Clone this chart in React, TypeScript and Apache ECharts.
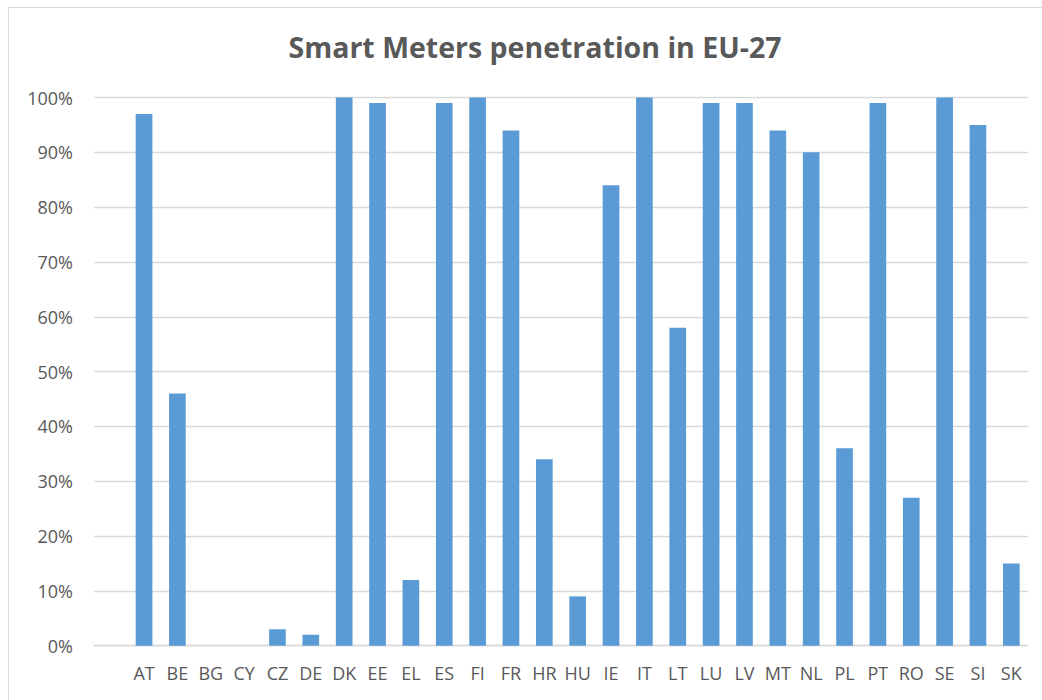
import React, { useEffect, useRef } from "react";
import * as echarts from "echarts";

const categories = ["", "AT", "BE", "BG", "CY", "CZ", "DE", "DK", "EE", "EL", "ES", "FI", "FR", "HR", "HU", "IE", "IT", "LT", "LU", "LV", "MT", "NL", "PL", "PT", "RO", "SE", "SI", "SK"];
const penetration = [null, 0.97, 0.46, 0, 0, 0.03, 0.02, 1.0, 0.99, 0.12, 0.99, 1.0, 0.94, 0.34, 0.09, 0.84, 1.0, 0.58, 0.99, 0.99, 0.94, 0.9, 0.36, 0.99, 0.27, 1.0, 0.95, 0.15];
const title = "Smart Meters penetration in EU-27";

export default function App() {
  const ref = useRef<HTMLDivElement>(null);
  useEffect(() => {
    const chart = echarts.init(ref.current!, null, { renderer: "svg" });
    chart.setOption({
      animation: false,
      backgroundColor: "#ffffff",
      textStyle: { fontFamily: "Open Sans" },
      title: {
        text: title,
        left: 530,
        top: 25,
        padding: 5,
        textAlign: "center",
        textStyle: { fontFamily: "Open Sans", fontWeight: "bold", fontSize: 28.5, color: "#595959", lineHeight: 34 },
      },
      graphic: [
        {
          type: "rect",
          shape: { x: 8.5, y: 7.5, width: 1200, height: 900 },
          style: { fill: "none", stroke: "#d9d9d9", lineWidth: 1 },
          silent: true,
        },
      ],
      grid: { left: 94, right: 14, top: 97.5, bottom: 54.3 },
      xAxis: {
        type: "category",
        data: categories,
        axisLine: { show: true, lineStyle: { color: "#d9d9d9", width: 1.3 } },
        axisTick: { show: false },
        axisLabel: { color: "#595959", fontSize: 18, margin: 18, interval: 0, fontFamily: "Open Sans" },
      },
      yAxis: {
        type: "value",
        min: 0,
        max: 1,
        interval: 0.1,
        axisLine: { show: false },
        axisTick: { show: false },
        splitLine: { lineStyle: { color: "#d9d9d9", width: 1.3 } },
        axisLabel: {
          color: "#595959",
          fontSize: 18,
          margin: 21,
          fontFamily: "Open Sans",
          formatter: (v: number) => Math.round(v * 100) + "%",
        },
      },
      series: [
        {
          type: "bar",
          data: penetration,
          barWidth: "50%",
          itemStyle: { color: "#5b9bd5", borderWidth: 0 },
        },
      ],
    });
    return () => chart.dispose();
  }, []);
  return <div ref={ref} style={{ position: "fixed", left: 0, top: 0, width: 1042, height: 700 }} />;
}
